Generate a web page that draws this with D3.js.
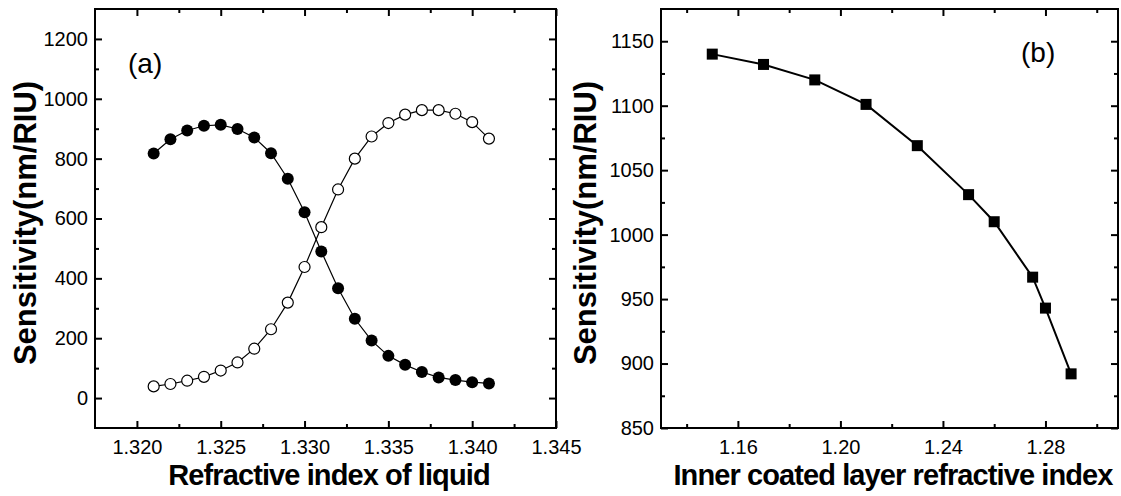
<!DOCTYPE html>
<html>
<head>
<meta charset="utf-8">
<script src="https://cdn.jsdelivr.net/npm/d3@7"></script>
<style>
  body { margin: 0; background: #fff; }
  svg text { font-family: "Liberation Sans", Arial, sans-serif; fill: #000; }
</style>
</head>
<body>
<svg id="chart" width="1121" height="496"></svg>
<script>
// panel (a): sensitivity vs liquid refractive index
const liquidRI = [1.321, 1.322, 1.323, 1.324, 1.325, 1.326, 1.327, 1.328, 1.329, 1.330,
                  1.331, 1.332, 1.333, 1.334, 1.335, 1.336, 1.337, 1.338, 1.339, 1.340, 1.341];
const sensFilled = [817, 865, 894, 910, 913, 899, 871, 818, 733, 621,
                    490, 367, 265, 192, 141, 111, 87, 69, 60, 53, 49];
const sensOpen = [39, 47, 58, 71, 92, 119, 165, 230, 319, 438,
                  571, 697, 800, 874, 919, 947, 962, 962, 950, 922, 867];
const aXTicks = [1.320, 1.325, 1.330, 1.335, 1.340, 1.345];
const aXMinor = [1.3225, 1.3275, 1.3325, 1.3375, 1.3425];
const aYTicks = [0, 200, 400, 600, 800, 1000, 1200];
const aYMinor = [100, 300, 500, 700, 900, 1100];

// panel (b): sensitivity vs inner coated layer refractive index
const innerRI = [1.15, 1.17, 1.19, 1.21, 1.23, 1.25, 1.26, 1.275, 1.28, 1.29];
const sensInner = [1140, 1132, 1120, 1101, 1069, 1031, 1010, 967, 943, 892];
const bXTicks = [1.16, 1.20, 1.24, 1.28];
const bXMinor = [1.14, 1.18, 1.22, 1.26, 1.30];
const bYTicks = [850, 900, 950, 1000, 1050, 1100, 1150];
const bYMinor = [875, 925, 975, 1025, 1075, 1125];

const svg = d3.select("#chart");
svg.append("rect").attr("width", 1121).attr("height", 496).attr("fill", "#fff");

function panel(cfg) {
  const x = d3.scaleLinear().domain(cfg.xDomain).range(cfg.xRange);
  const y = d3.scaleLinear().domain(cfg.yDomain).range([428, 9]);
  const g = svg.append("g");
  const top = y.range()[1], bottom = y.range()[0];
  const left = x.range()[0], right = x.range()[1];

  function addAxis(axis, tx, ty) {
    const a = g.append("g").attr("transform", "translate(" + tx + "," + ty + ")").call(axis);
    a.select(".domain").remove();
    a.selectAll("line").attr("stroke", "#000").attr("stroke-width", 2);
    a.selectAll("text").attr("font-size", 20).attr("font-family", "Liberation Sans, Arial, sans-serif");
    return a;
  }

  // major ticks with labels, bottom & left
  addAxis(d3.axisBottom(x).tickValues(cfg.xTicks).tickSize(-7).tickPadding(12).tickFormat(d3.format(cfg.xFmt)), 0, bottom);
  addAxis(d3.axisLeft(y).tickValues(cfg.yTicks).tickSize(-7).tickPadding(7).tickFormat(d3.format("d")), left, 0);
  // mirrored ticks top & right
  addAxis(d3.axisTop(x).tickValues(cfg.xTicks).tickSize(-7).tickFormat(""), 0, top);
  addAxis(d3.axisRight(y).tickValues(cfg.yTicks).tickSize(-7).tickFormat(""), right, 0);
  // minor ticks
  addAxis(d3.axisBottom(x).tickValues(cfg.xMinor).tickSize(-4).tickFormat(""), 0, bottom);
  addAxis(d3.axisTop(x).tickValues(cfg.xMinor).tickSize(-4).tickFormat(""), 0, top);
  addAxis(d3.axisLeft(y).tickValues(cfg.yMinor).tickSize(-4).tickFormat(""), left, 0);
  addAxis(d3.axisRight(y).tickValues(cfg.yMinor).tickSize(-4).tickFormat(""), right, 0);

  g.append("rect")
    .attr("x", left).attr("y", top)
    .attr("width", right - left).attr("height", bottom - top)
    .attr("fill", "none").attr("stroke", "#000").attr("stroke-width", 2);

  // axis titles
  g.append("text")
    .attr("x", cfg.xTitleX).attr("y", 485)
    .attr("text-anchor", "middle")
    .attr("font-size", 29).attr("font-weight", "bold")
    .attr("letter-spacing", -0.9)
    .text(cfg.xTitle);

  g.append("text")
    .attr("transform", "translate(" + cfg.yTitleX + ",223) rotate(-90)")
    .attr("text-anchor", "middle")
    .attr("font-size", 31).attr("font-weight", "bold")
    .text("Sensitivity(nm/RIU)");

  g.append("text")
    .attr("x", cfg.tagX).attr("y", cfg.tagY)
    .attr("font-size", 28)
    .text(cfg.tag);

  return { g: g, x: x, y: y };
}

// ---- panel (a)
const pa = panel({
  xDomain: [1.3175, 1.345], xRange: [95, 556],
  yDomain: [-100, 1300],
  xTicks: aXTicks, xMinor: aXMinor, yTicks: aYTicks, yMinor: aYMinor,
  xFmt: ".3f",
  xTitle: "Refractive index of liquid", xTitleX: 329,
  yTitleX: 36, tag: "(a)", tagX: 128, tagY: 73
});

const lineA = d3.line().x(function(d) { return pa.x(d[0]); }).y(function(d) { return pa.y(d[1]); });
const filledPts = liquidRI.map(function(v, i) { return [v, sensFilled[i]]; });
const openPts = liquidRI.map(function(v, i) { return [v, sensOpen[i]]; });

pa.g.append("path").datum(filledPts).attr("d", lineA)
  .attr("fill", "none").attr("stroke", "#000").attr("stroke-width", 1.2);
pa.g.append("path").datum(openPts).attr("d", lineA)
  .attr("fill", "none").attr("stroke", "#000").attr("stroke-width", 1.2);

pa.g.selectAll(".open").data(openPts).enter().append("circle")
  .attr("class", "open")
  .attr("cx", function(d) { return pa.x(d[0]); })
  .attr("cy", function(d) { return pa.y(d[1]); })
  .attr("r", 5.5)
  .attr("fill", "#fff").attr("stroke", "#000").attr("stroke-width", 1.2);

pa.g.selectAll(".filled").data(filledPts).enter().append("circle")
  .attr("class", "filled")
  .attr("cx", function(d) { return pa.x(d[0]); })
  .attr("cy", function(d) { return pa.y(d[1]); })
  .attr("r", 6)
  .attr("fill", "#000");

// ---- panel (b)
const pb = panel({
  xDomain: [1.13, 1.3083], xRange: [661, 1118],
  yDomain: [850, 1175],
  xTicks: bXTicks, xMinor: bXMinor, yTicks: bYTicks, yMinor: bYMinor,
  xFmt: ".2f",
  xTitle: "Inner coated layer refractive index", xTitleX: 893,
  yTitleX: 596, tag: "(b)", tagX: 1021, tagY: 62
});

const innerPts = innerRI.map(function(v, i) { return [v, sensInner[i]]; });
const lineB = d3.line().x(function(d) { return pb.x(d[0]); }).y(function(d) { return pb.y(d[1]); });

pb.g.append("path").datum(innerPts).attr("d", lineB)
  .attr("fill", "none").attr("stroke", "#000").attr("stroke-width", 2);

pb.g.selectAll(".sq").data(innerPts).enter().append("rect")
  .attr("class", "sq")
  .attr("x", function(d) { return pb.x(d[0]) - 5.5; })
  .attr("y", function(d) { return pb.y(d[1]) - 5.5; })
  .attr("width", 11).attr("height", 11)
  .attr("fill", "#000");
</script>
</body>
</html>
